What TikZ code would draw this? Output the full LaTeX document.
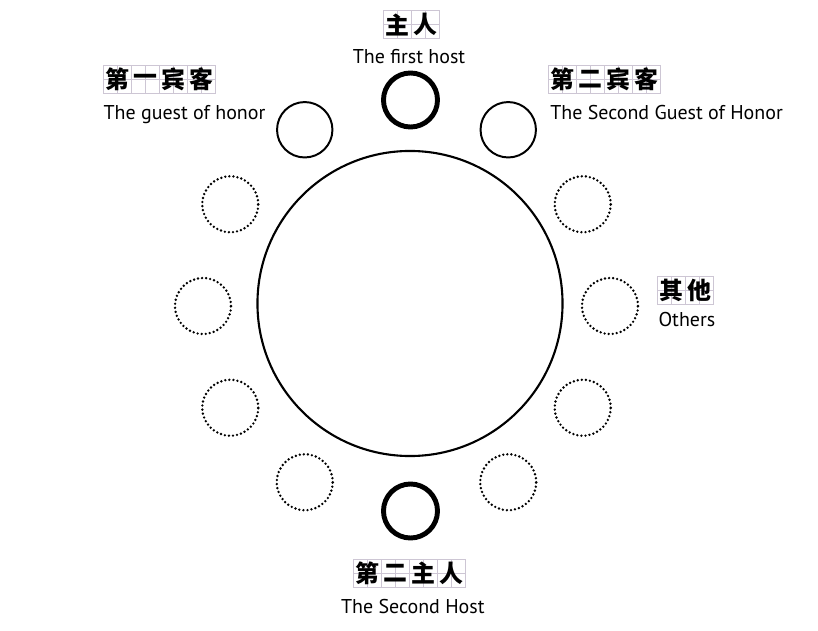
\documentclass[tikz,border=0pt]{standalone}
\usepackage{fontspec}
\setmainfont{PT Sans}
\newfontfamily\cjk{Noto Sans CJK SC}
\usepackage{tikz}
\usetikzlibrary{positioning,calc}
\definecolor{TBLgrid}{RGB}{205,198,212}
\tikzstyle{Sseat}  = [circle, draw, line width=1.4pt, inner sep=0pt,
                      minimum size=1.385cm]
\tikzstyle{Shost}  = [Sseat, line width=3.5pt, minimum size=1.35cm]
\tikzstyle{Sother} = [Sseat, line width=1.9pt, line cap=round,
                      dash pattern=on 0pt off 2.9pt, minimum size=1.4cm]
\tikzstyle{Szige}  = [rectangle, draw=TBLgrid, line width=0.5pt,
                      minimum size=0.7cm, inner sep=0pt,
                      font={\cjk\bfseries\fontsize{17}{17}\selectfont},
                      path picture={\draw[TBLgrid, line width=0.4pt]
                        (path picture bounding box.north) -- (path picture bounding box.south)
                        (path picture bounding box.west) -- (path picture bounding box.east);}]
\tikzstyle{Stxt}   = [inner sep=0pt, font=\fontsize{14.2}{16}\selectfont]

\begin{document}
\begin{tikzpicture}[x=0.025cm, y=0.025cm]
  \useasboundingbox (-410,306) rectangle (408,-325);
  % table
  \node[Sseat, minimum size=7.625cm, line width=1.5pt] (table) at (0,2.5) {};
  % seats
  \coordinate (ring) at (-3.5,0);
  \node[Shost] (host1) at (0.5,206) {};
  \node[Shost] (host2) at (0.5,-205) {};
  \node[Sseat] (guest1) at ($(ring)+(120:203.5)$) {};
  \node[Sseat] (guest2) at ($(ring)+(60:203.5)$) {};
  \foreach \a [count=\i] in {150,180,210,240,-60,-30,0,30}
    \node[Sother] (other\i) at ($(ring)+(\a:203.5)$) {};
  % labels
  \foreach \c [count=\i] in {主,人}
    \node[Szige] (zhost\i) at ({-41+28*\i},281.3) {\c};
  \node[Stxt, anchor=base] (thost1) at (-1,242) {The first host};
  \foreach \c [count=\i] in {第,一,宾,客}
    \node[Szige] (zguest\i) at ({-320.7+28*\i},226.5) {\c};
  \node[Stxt, anchor=base west] (tguest1) at (-306.7,186) {The guest of honor};
  \foreach \c [count=\i] in {第,二,宾,客}
    \node[Szige] (zsecond\i) at ({124.3+28*\i},226.5) {\c};
  \node[Stxt, anchor=base west] (tguest2) at (140,186) {The Second Guest of Honor};
  \foreach \c [count=\i] in {其,他}
    \node[Szige] (zother\i) at ({233.2+28*\i},16) {\c};
  \node[Stxt, anchor=base west] (tother) at (248.3,-20.7) {Others};
  \foreach \c [count=\i] in {第,二,主,人}
    \node[Szige] (zhost2\i) at ({-70.6+28*\i},-267.3) {\c};
  \node[Stxt, anchor=base] (thost2) at (2.8,-307.3) {The Second Host};
\end{tikzpicture}
\end{document}
